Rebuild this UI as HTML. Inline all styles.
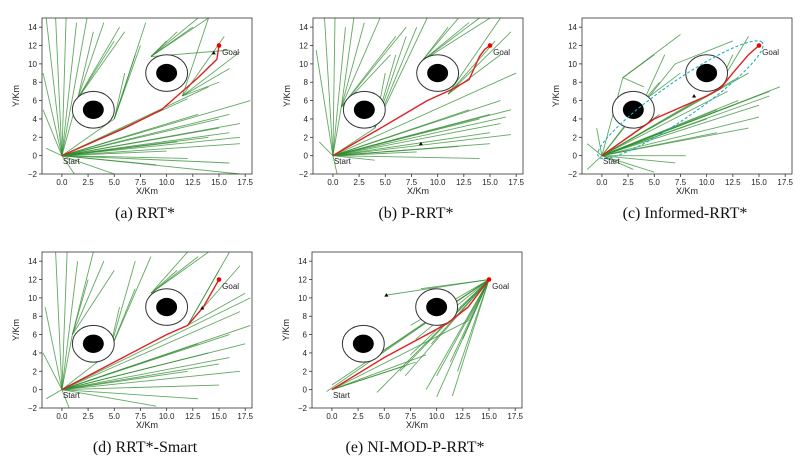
<!DOCTYPE html>
<html><head><meta charset="utf-8">
<style>
html,body{margin:0;padding:0;background:#fff;}
svg{display:block;}
</style></head>
<body>
<svg id="fig" width="811" height="461" viewBox="0 0 811 461" xmlns="http://www.w3.org/2000/svg"></svg>
<script>
// ---- data ----
const xTicks=[0,2.5,5,7.5,10,12.5,15,17.5];
const xTickLabels=["0.0","2.5","5.0","7.5","10.0","12.5","15.0","17.5"];
const yTicks=[-2,0,2,4,6,8,10,12,14];
const yTickLabels=["−2","0","2","4","6","8","10","12","14"];
const obstacles=[[3,5],[10,9]];
const panelNames=["(a)  RRT*","(b)  P-RRT*","(c)  Informed-RRT*","(d)  RRT*-Smart","(e)  NI-MOD-P-RRT*"];
const panelOrigins=[[0,0],[271,0],[540,0],[0,234],[270,234]];
// tree segments per panel [x1,y1,x2,y2]
const treeA=[[0,0,-1.5,15],[0,0,-0.6,15],[0,0,0.4,15],[0,0,1.4,14.5],[0,0,2.4,15],[0,0,-1.8,9],[0,0,-1.8,5],[0,0,-1.5,0.8],[0,0,1.5,6.2],[1.5,6.2,3,13.5],[1.5,6.2,4,14.5],[1.5,6.2,5,12.5],[1.5,6.2,6,13.5],[1.5,6.2,5.5,14],[0,0,5,4],[5,4,6,9],[5,4,7,11],[5,4,8,14.5],[5,4,7.5,12],[0,0,17,2],[0,0,17,3.5],[0,0,16,4.5],[0,0,15,4],[0,0,17,1.3],[0,0,16,-0.8],[0,0,17,-2],[0,0,12,-0.3],[0,0,5,-2],[0,0,10,0.5],[0,0,13,4.5],[0,0,14,2],[0,0,18,6],[0,0,12,6.2],[0,0,14,7.5],[0,0,9,-1],[0,0,1.2,-2],[8.5,10.8,13,15],[8.5,10.8,14,15],[8.5,10.8,11,13.5],[8.5,10.8,12.5,14],[8.5,10.8,10,12.5],[8.5,10.8,16,11.5],[11.5,6.5,14,15],[11.5,6.5,15.5,13],[11.5,6.5,17,11.3],[11.5,6.5,16,9.5],[11.5,6.5,15,8],[0,0,15,3],[0,0,11,1.5],[0,0,16,2.5]];
const treeB=[[0,0,-1.6,11.5],[0,0,-0.8,15],[0,0,0.2,15],[0,0,1.2,14],[0,0,-1.3,1.5],[0,0,0.8,5.3],[0.8,5.3,2,15],[0.8,5.3,3,14.5],[0.8,5.3,4.5,15],[0.8,5.3,6,13],[0.8,5.3,5.5,11],[0.8,5.3,7,14],[0,0,4,3],[4,3,5,9],[4,3,6,11],[4,3,7,13],[4,3,8,14],[4,3,9,15],[0,0,17,5],[0,0,16,6],[0,0,17,2.3],[0,0,15,1.3],[0,0,14,-0.3],[0,0,16,3.5],[0,0,12,1],[0,0,15,4.5],[0,0,8,0.4],[0,0,4,-0.5],[0,0,16.5,4.2],[0,0,13,5],[0,0,0.4,-2],[8.5,10.3,12,15],[8.5,10.3,14,15],[8.5,10.3,13,14.5],[8.5,10.3,11,14],[8.5,10.3,15,15],[11,6.7,16,15],[11,6.7,17,13.5],[11,6.7,16,11],[11,6.7,15.5,12.5],[0,0,17.5,9],[0,0,15,2.5],[0,0,14,4]];
const treeC=[[0,0,-1.4,-1.5],[0,0,-1.4,1.3],[0,0,-0.5,3],[0,0,2,8.5],[2,8.5,7.5,13.2],[2,8.5,5,11],[2,8.5,4,7.5],[0,0,4,6],[4,6,6,11],[4,6,7.5,9],[4,6,5.5,8],[0,0,7,10],[7,10,12.5,12.5],[0,0,17,7.5],[0,0,16,6.5],[0,0,15,4.2],[0,0,14,3],[0,0,12.5,5.5],[0,0,13,8.5],[0,0,8,0],[0,0,7,-0.8],[0,0,5,-1.8],[0,0,11,2.5],[0,0,16,7],[0,0,12,7],[0,0,10,4],[0,0,14,9],[11,7.3,14,13],[11,7.3,12.5,11],[0,0,9,6],[0,0,5.5,4.5],[0,0,3,-1.5],[0,0,13,6],[0,0,11,5],[0,0,15,5.5]];
const treeD=[[0,0,-1.6,9],[0,0,-0.6,15],[0,0,0.5,15],[0,0,1.5,14],[0,0,-1.8,4],[0,0,-1.5,-1],[0,0,0.7,-2],[0,0,1,6],[1,6,3,15],[1,6,4,14],[1,6,5,13],[1,6,2.5,12],[0,0,4.5,4],[4.5,4,5.5,9],[4.5,4,7,11],[4.5,4,7,14],[4.5,4,8.5,14.5],[0,0,17,2],[0,0,16,3.5],[0,0,17.5,5],[0,0,15,0.5],[0,0,13,-1],[0,0,18,7],[0,0,16,6],[0,0,9,-1.8],[0,0,12,2],[0,0,17,8.5],[0,0,18,10],[0,0,14,4],[8.5,10.5,12,15],[8.5,10.5,13,14.5],[8.5,10.5,11,13],[8.5,10.5,14,15],[12,7,16,15],[12,7,17,13.5],[12,7,15,13],[12,7,17.5,10.5],[0,0,15,2.8],[0,0,13,5]];
const treeE=[[15,12,5.2,10.3],[15,12,8.5,11],[15,12,-0.5,-0.2],[15,12,0,0.5],[15,12,4,3.5],[15,12,7.5,3.8],[15,12,4.3,-0.3],[15,12,6.5,2],[15,12,7,1.5],[15,12,9,0],[15,12,10,-0.8],[15,12,11.5,-0.7],[15,12,11.3,3],[15,12,9.5,5],[15,12,12.5,5.5],[15,12,13,7.5],[15,12,7.5,7],[15,12,12,2],[15,12,8,5.5],[15,12,10,1.5],[0,0,9,3.8],[0,0,8,3],[0,0,7,2.6],[0,0,13,7.5]];
const trees=[treeA,treeB,treeC,treeD,treeE];
// paths
const pathsX=[[0,3,6,9.5,11,13,14.8,15],[0,5,9,11.5,13,14,14.5,15],[0,5,10,11.3,12.5,14,15],[0,6,10,12,13.5,15],[0,5,11,13,15]];
const pathsY=[[0,1.5,3,5,6.5,8.5,10.5,12],[0,3.3,6,7.3,8.3,10.8,11.6,12],[0,4,6.5,7.3,9,11,12],[0,3.6,6,7,9,12],[0,3.5,7.2,9,12]];
const triX=[14.5,8.4,8.8,13.4,5.2];
const triY=[11.2,1.3,6.5,8.9,10.3];
// ---- drawing ----
const NS="http://www.w3.org/2000/svg";
const svg=document.getElementById('fig');
function mk(tag,attrs,parent){const e=document.createElementNS(NS,tag);for(const k in attrs)e.setAttribute(k,attrs[k]);(parent||svg).appendChild(e);return e;}
const XMIN=-1.9,XMAX=18.15,YMIN=-2,YMAX=15;
panelOrigins.forEach((o,p)=>{
  const ox=o[0],oy=o[1];
  const L=ox+42,T=oy+18,W=210,H=156;
  const sx=v=>L+(v-XMIN)/(XMAX-XMIN)*W;
  const sy=v=>T+H-(v-YMIN)/(YMAX-YMIN)*H;
  const g=mk('g',{});
  
  
  const cid='clip'+p;
  const cp=mk('clipPath',{id:cid},g);mk('rect',{x:L,y:T,width:W,height:H},cp);
  const plot=mk('g',{'clip-path':'url(#'+cid+')'},g);
  trees[p].forEach(s=>{
    const ln=mk('line',{x1:sx(s[0]),y1:sy(s[1]),x2:sx(s[2]),y2:sy(s[3]),stroke:'#2e8b2e','stroke-width':0.9,'stroke-opacity':0.75},plot);
    
    
  });
  obstacles.forEach(c=>{
    const e1=mk('ellipse',{cx:sx(c[0]),cy:sy(c[1]),rx:(sx(2)-sx(0)),ry:(sy(0)-sy(2)),fill:'#fff',stroke:'#333','stroke-width':1},plot);
    
    
    const e2=mk('ellipse',{cx:sx(c[0]),cy:sy(c[1]),rx:(sx(1)-sx(0)),ry:(sy(0)-sy(1)),fill:'#000'},plot);
    
    
  });
  if(p===2){
    const cx=7.5,cy=6.1,a=10,b=1.9,ang=Math.atan2(12,15);
    let d='';for(let i=0;i<=60;i++){const t=i/60*2*Math.PI;const x=cx+a*Math.cos(t)*Math.cos(ang)-b*Math.sin(t)*Math.sin(ang);const y=cy+a*Math.cos(t)*Math.sin(ang)+b*Math.sin(t)*Math.cos(ang);d+=(i?'L':'M')+sx(x).toFixed(1)+','+sy(y).toFixed(1);}
    const el=mk('path',{d:d,fill:'none',stroke:'#20b2c0','stroke-width':1.1,'stroke-dasharray':'3,2'},plot);
    
    
  }
  const pts=pathsX[p].map((x,i)=>sx(x).toFixed(1)+','+sy(pathsY[p][i]).toFixed(1)).join(' ');
  const pl=mk('polyline',{points:pts,fill:'none',stroke:'#e02020','stroke-width':1.4},plot);
  
  
  const gp=mk('circle',{cx:sx(15),cy:sy(12),r:2.3,fill:'#e00'},plot);
  
  
  const tx=sx(triX[p]),ty=sy(triY[p]);
  const tr=mk('polygon',{points:`${tx-2},${ty+1.5} ${tx+2},${ty+1.5} ${tx},${ty-2}`,fill:'#000'},plot);
  
  
  const t1=mk('text',{x:sx(0.1),y:sy(-0.6)+3,'font-size':8,'font-family':'Liberation Sans, sans-serif',fill:'#222'},g);t1.textContent='Start';
  
  
  const t2=mk('text',{x:sx(15.3),y:sy(11.3)+3,'font-size':8,'font-family':'Liberation Sans, sans-serif',fill:'#222'},g);t2.textContent='Goal';
  
  
  const fr=mk('rect',{x:L,y:T,width:W,height:H,fill:'none',stroke:'#333','stroke-width':0.8},g);
  
  
  xTicks.forEach((v,i)=>{
    mk('line',{x1:sx(v),y1:T+H,x2:sx(v),y2:T+H+3,stroke:'#333','stroke-width':0.8},g);
    const t=mk('text',{x:sx(v),y:T+H+11,'font-size':8,'text-anchor':'middle','font-family':'Liberation Sans, sans-serif',fill:'#222'},g);
    t.textContent=xTickLabels[i];
    
    
  });
  yTicks.forEach((v,i)=>{
    mk('line',{x1:L-3,y1:sy(v),x2:L,y2:sy(v),stroke:'#333','stroke-width':0.8},g);
    const t=mk('text',{x:L-5,y:sy(v)+3,'font-size':8,'text-anchor':'end','font-family':'Liberation Sans, sans-serif',fill:'#222'},g);
    t.textContent=yTickLabels[i];
    
    
  });
  const xl=mk('text',{x:L+W/2,y:T+H+20,'font-size':9,'text-anchor':'middle','font-family':'Liberation Sans, sans-serif',fill:'#222'},g);
  xl.textContent='X/Km';
  
  
  const yl=mk('text',{x:0,y:0,'font-size':9,'text-anchor':'middle','font-family':'Liberation Sans, sans-serif',fill:'#222',transform:`translate(${L-23},${T+H/2}) rotate(-90)`},g);
  yl.textContent='Y/Km';
  
  
  const cap=mk('text',{x:L+W/2-2,y:oy+218,'font-size':16,'text-anchor':'middle','font-family':'Liberation Serif, serif',fill:'#111'},g);
  cap.textContent=panelNames[p];
  
  
});
</script>
</body></html>
